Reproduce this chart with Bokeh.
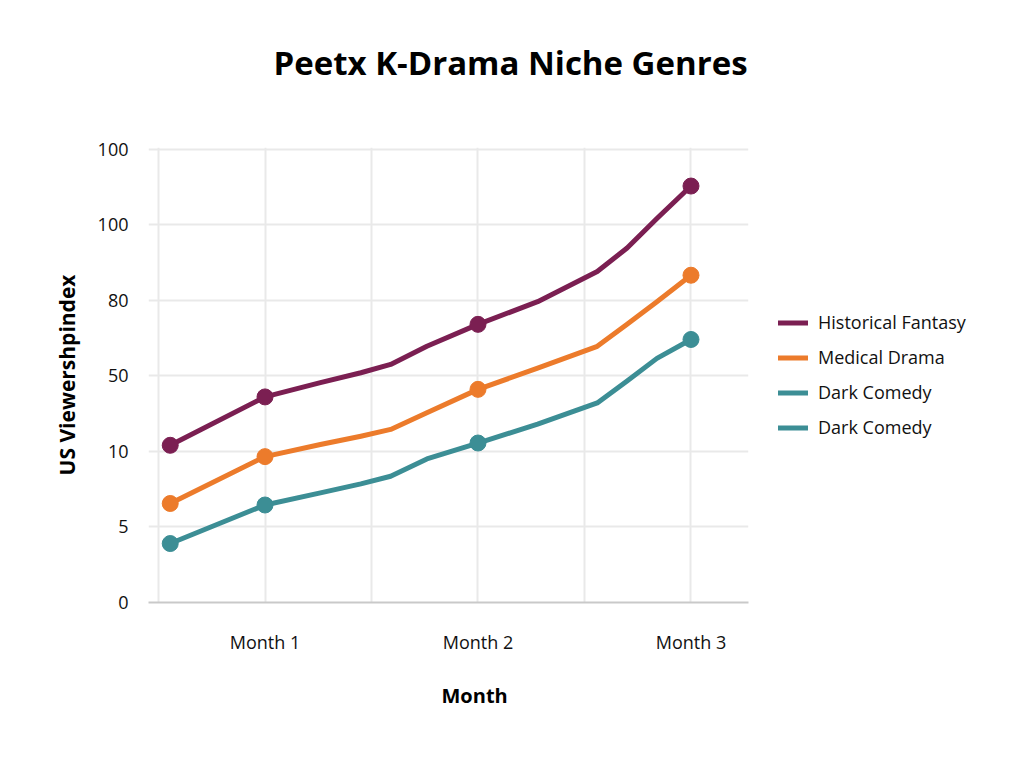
from bokeh.plotting import figure
from bokeh.models import Range1d, FixedTicker, Legend, LegendItem, Title
from bokeh.embed import file_html
from bokeh.resources import INLINE

# Positions along the month axis where the curves were sampled
x_points = [0.11, 1.0, 1.52, 1.90, 2.18, 2.52, 3.0, 3.56, 4.12, 4.40, 4.68, 5.0]
marker_idx = [0, 1, 6, 11]
month_ticks = [1, 3, 5]
month_labels = ["Month 1", "Month 2", "Month 3"]

# Viewership index levels per genre (in y-tick steps)
historical_fantasy = [2.08, 2.72, 2.91, 3.04, 3.15, 3.39, 3.68, 3.98, 4.38, 4.69, 5.08, 5.51]
medical_drama = [1.31, 1.93, 2.09, 2.20, 2.29, 2.51, 2.82, 3.10, 3.39, 3.68, 3.98, 4.33]
dark_comedy = [0.78, 1.29, 1.45, 1.57, 1.67, 1.90, 2.11, 2.36, 2.64, 2.93, 3.23, 3.48]

y_tick_pos = [0, 1, 2, 3, 4, 5, 6]
y_tick_labels = ["0", "5", "10", "50", "80", "100", "100"]

series = [
    ("Historical Fantasy", historical_fantasy, "#7b1f52"),
    ("Medical Drama", medical_drama, "#ec7b2b"),
    ("Dark Comedy", dark_comedy, "#3c8e95"),
]
legend_labels = ["Historical Fantasy", "Medical Drama", "Dark Comedy", "Dark Comedy"]

FONT = "Open Sans"

p = figure(frame_width=600, frame_height=455, output_backend="svg", toolbar_location=None,
           x_range=Range1d(-0.094, 5.54), y_range=Range1d(0, 6.02),
           min_border_left=148, min_border_right=276,
           min_border_top=147, min_border_bottom=166)
p.outline_line_color = None
p.background_fill_color = "white"
p.border_fill_color = "white"

# grid
p.xgrid.ticker = FixedTicker(ticks=[0, 1, 2, 3, 4, 5])
p.ygrid.ticker = FixedTicker(ticks=y_tick_pos)
p.xgrid.grid_line_color = "#e9e9e9"
p.ygrid.grid_line_color = "#e9e9e9"
p.xgrid.grid_line_width = 2
p.ygrid.grid_line_width = 2

# x axis
p.xaxis.ticker = FixedTicker(ticks=month_ticks)
p.xaxis.major_label_overrides = {t: l for t, l in zip(month_ticks, month_labels)}
p.xaxis.axis_line_color = "#c9c9c9"
p.xaxis.axis_line_width = 2
p.xaxis.major_tick_line_color = None
p.xaxis.minor_tick_line_color = None
p.xaxis.major_label_standoff = 21
p.xaxis.major_label_text_font = FONT
p.xaxis.major_label_text_font_size = "18px"
p.xaxis.major_label_text_color = "#111111"

# y axis
p.yaxis.ticker = FixedTicker(ticks=y_tick_pos)
p.yaxis.major_label_overrides = {t: l for t, l in zip(y_tick_pos, y_tick_labels)}
p.yaxis.axis_line_color = None
p.yaxis.major_tick_line_color = None
p.yaxis.minor_tick_line_color = None
p.yaxis.major_label_standoff = 14
p.yaxis.major_label_text_font = FONT
p.yaxis.major_label_text_font_size = "18px"
p.yaxis.major_label_text_color = "#111111"
p.yaxis.axis_label = "US Viewershpindex"
p.yaxis.axis_label_text_font = FONT
p.yaxis.axis_label_text_font_style = "bold"
p.yaxis.axis_label_text_font_size = "21px"
p.yaxis.axis_label_text_color = "#000000"
p.yaxis.axis_label_standoff = 14

line_renderers = []
for name, vals, color in series:
    r = p.line(x_points, vals, line_color=color, line_width=5,
               line_cap="round", line_join="round")
    line_renderers.append(r)
    p.scatter([x_points[i] for i in marker_idx], [vals[i] for i in marker_idx],
              size=16, marker="circle", fill_color=color, line_color=color)

legend_renderers = [line_renderers[0], line_renderers[1], line_renderers[2], line_renderers[2]]
legend = Legend(
    items=[LegendItem(label=l, renderers=[r]) for l, r in zip(legend_labels, legend_renderers)],
    location="left", padding=0, margin=30, spacing=10,
    glyph_width=30, glyph_height=25, label_height=25, label_standoff=10,
    label_text_font=FONT, label_text_font_size="18px", label_text_color="#111111",
    border_line_color=None, background_fill_alpha=0,
)
p.add_layout(legend, "right")

# blank band between the title and the plot area
p.add_layout(Title(text=" ", standoff=1, text_font=FONT,
                   text_font_size="40px"), "above")
# chart title
p.add_layout(Title(text="Peetx K-Drama Niche Genres", align="left", offset=125,
                   standoff=10, text_font=FONT, text_font_style="bold",
                   text_font_size="33px", text_color="#000000"), "above")
# x axis title
p.add_layout(Title(text="Month", align="left", offset=293, standoff=46,
                   text_font=FONT, text_font_style="bold", text_font_size="20px",
                   text_color="#000000"), "below")

open("out.html", "w").write(file_html(p, INLINE))
